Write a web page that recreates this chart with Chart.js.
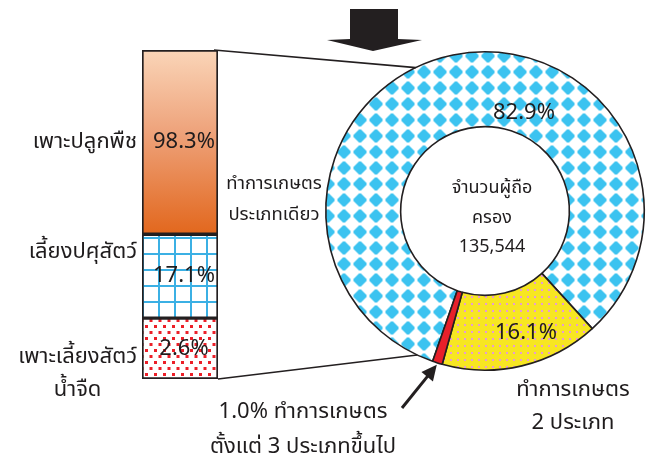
<!DOCTYPE html>
<html>
<head>
<meta charset="utf-8">
<script src="https://cdn.jsdelivr.net/npm/chart.js@4.4.1/dist/chart.umd.min.js"></script>
<style>
  body { margin: 0; background: #fff; }
  #wrap { position: relative; width: 659px; height: 460px; overflow: hidden; font-family: "Noto Sans Thai", Tahoma, "Noto Sans", sans-serif; color: #1f1c1d; }
  canvas { position: absolute; left: 0; top: 0; }
  #ringCanvas { pointer-events: none; }
  .lbl { position: absolute; white-space: nowrap; line-height: 1; }
</style>
</head>
<body>
<div id="wrap">
  <canvas id="barCanvas" width="330" height="460"></canvas>
  <canvas id="ringCanvas" width="659" height="460"></canvas>
</div>
<script>
// donut: holders split by number of farming types
const ringLabels = [['ทำการเกษตร', 'ประเภทเดียว'], ['ทำการเกษตร', '2 ประเภท'], ['ทำการเกษตร', 'ตั้งแต่ 3 ประเภทขึ้นไป']];
const ringValues = [82.9, 16.1, 1.0];
const centerLines = ['จำนวนผู้ถือ', 'ครอง', '135,544'];

// bar: breakdown of the single-type holders
const barLabels = [['เพาะปลูกพืช'], ['เลี้ยงปศุสัตว์'], ['เพาะเลี้ยงสัตว์', 'น้ำจืด']];
const barValues = [98.3, 17.1, 2.6];
// the blocks in the picture are not drawn to value, these are the shares read off the picture
const barBlockShare = [56, 25.5, 18.5];

const ink = '#231f20';
const wrap = document.getElementById('wrap');

function addText(lines, x, y, size, align, lh) {
  const d = document.createElement('div');
  d.className = 'lbl';
  d.style.fontSize = size + 'px';
  d.style.lineHeight = (lh || size) + 'px';
  d.style.textAlign = 'center';
  d.style.left = x + 'px';
  d.style.top = y + 'px';
  let tx = '-50%';
  if (align === 'right') tx = '-100%';
  if (align === 'left') tx = '0';
  d.style.transform = 'translate(' + tx + ',-50%)';
  d.innerHTML = lines.join('<br>');
  wrap.appendChild(d);
  return d;
}

function makePattern(w, h, draw) {
  const c = document.createElement('canvas');
  c.width = w; c.height = h;
  const g = c.getContext('2d');
  draw(g);
  return g.createPattern(c, 'repeat');
}

// stepped blue diamonds
const diamondFill = makePattern(16, 16, g => {
  g.fillStyle = '#fff'; g.fillRect(0, 0, 16, 16);
  g.fillStyle = '#3cc3f0';
  [[13, 3], [11, 5], [9, 7], [7, 9], [5, 11], [3, 13]].forEach(([w, h]) => {
    g.fillRect(8 - w / 2, 8 - h / 2, w, h);
  });
});
const yellowFill = makePattern(7, 7, g => {
  g.fillStyle = '#f7e622'; g.fillRect(0, 0, 7, 7);
  g.fillStyle = '#e79bd3'; g.fillRect(2, 2, 2, 2);
});
const gridFill = makePattern(16, 16, g => {
  g.fillStyle = '#fff'; g.fillRect(0, 0, 16, 16);
  g.fillStyle = '#3bb0e4';
  g.fillRect(14, 0, 2, 16);
  g.fillRect(0, 13, 16, 2);
});
const dotFill = makePattern(9, 12, g => {
  g.fillStyle = '#fff'; g.fillRect(0, 0, 9, 12);
  g.fillStyle = '#ec1f28';
  g.fillRect(1, 1, 3, 3);
  g.fillRect(5.5, 7, 3, 3);
});

const barTotal = barBlockShare.reduce((a, b) => a + b, 0);

function orangeFill(ctx) {
  const chart = ctx.chart;
  const y = chart.scales.y;
  if (!chart.chartArea || !y) return '#e8874a';
  const top = y.getPixelForValue(barTotal);
  const bot = y.getPixelForValue(barTotal - barBlockShare[0]);
  const gr = chart.ctx.createLinearGradient(0, top, 0, bot);
  gr.addColorStop(0, '#fad5b8');
  gr.addColorStop(0.45, '#eea27a');
  gr.addColorStop(1, '#e2671d');
  return gr;
}

// stacked bottom-up: freshwater, livestock, crops
const barFills = [orangeFill, gridFill, dotFill];
const barDatasets = [2, 1, 0].map(i => ({
  label: barLabels[i].join(''),
  data: [barBlockShare[i]],
  backgroundColor: barFills[i],
  borderColor: ink,
  borderWidth: 2,
  borderSkipped: false,
  barPercentage: 1,
  categoryPercentage: 1
}));

const barChart = new Chart(document.getElementById('barCanvas').getContext('2d'), {
  type: 'bar',
  data: { labels: [''], datasets: barDatasets },
  options: {
    responsive: false,
    animation: false,
    layout: { padding: { left: 142, right: 112, top: 50, bottom: 81 } },
    plugins: { legend: { display: false }, tooltip: { enabled: false } },
    scales: {
      x: { stacked: true, display: false },
      y: { stacked: true, display: false, min: 0, max: barTotal }
    }
  }
});

function ringPoint(arc, deg, r) {
  const a = deg * Math.PI / 180 - Math.PI / 2;
  return { x: arc.x + Math.cos(a) * r, y: arc.y + Math.sin(a) * r };
}

const linkPlugin = {
  id: 'links',
  afterDraw(chart) {
    const g = chart.ctx;
    const arc = chart.getDatasetMeta(0).data[0];
    const topBar = barChart.getDatasetMeta(2).data[0];
    const lowBar = barChart.getDatasetMeta(0).data[0];
    const right = topBar.x + topBar.width / 2;
    const rot = chart.options.rotation;
    g.save();
    g.strokeStyle = ink;
    g.lineWidth = 1.6;
    // lines from the bar to the single-type slice
    let p = ringPoint(arc, rot + 135, arc.outerRadius);
    g.beginPath(); g.moveTo(right - 4, topBar.y); g.lineTo(p.x, p.y); g.stroke();
    p = ringPoint(arc, rot + 6, arc.outerRadius);
    g.beginPath(); g.moveTo(right, lowBar.base); g.lineTo(p.x, p.y); g.stroke();

    // small arrow to the thin red slice
    const red = chart.getDatasetMeta(0).data[2];
    const mid = (red.startAngle + red.endAngle) / 2;
    const tip = { x: arc.x + Math.cos(mid) * (arc.outerRadius + 2), y: arc.y + Math.sin(mid) * (arc.outerRadius + 2) };
    const tail = { x: 402, y: 408 };
    const ang = Math.atan2(tip.y - tail.y, tip.x - tail.x);
    g.lineWidth = 3;
    g.beginPath(); g.moveTo(tail.x, tail.y);
    g.lineTo(tip.x - Math.cos(ang) * 10, tip.y - Math.sin(ang) * 10); g.stroke();
    g.fillStyle = ink;
    g.beginPath();
    g.moveTo(tip.x, tip.y);
    g.lineTo(tip.x - Math.cos(ang - 0.45) * 17, tip.y - Math.sin(ang - 0.45) * 17);
    g.lineTo(tip.x - Math.cos(ang + 0.45) * 17, tip.y - Math.sin(ang + 0.45) * 17);
    g.closePath(); g.fill();

    // big arrow at the top
    g.beginPath();
    g.moveTo(350, 9); g.lineTo(398, 9); g.lineTo(398, 39); g.lineTo(422, 40);
    g.lineTo(373, 51); g.lineTo(327, 40); g.lineTo(350, 39);
    g.closePath(); g.fill();
    g.restore();
  }
};

const ringChart = new Chart(document.getElementById('ringCanvas').getContext('2d'), {
  type: 'doughnut',
  data: {
    labels: ringLabels.map(l => l.join(' ')),
    datasets: [{
      data: ringValues,
      backgroundColor: [diamondFill, yellowFill, '#e8202a'],
      borderColor: ink,
      borderWidth: 1.6
    }]
  },
  options: {
    responsive: false,
    animation: false,
    rotation: 199.2,
    cutout: '53%',
    layout: { padding: { left: 325, right: 14, top: 51, bottom: 89 } },
    plugins: { legend: { display: false }, tooltip: { enabled: false } }
  },
  plugins: [linkPlugin]
});

// labels
const barEls = [2, 1, 0].map(d => barChart.getDatasetMeta(d).data[0]);
barEls.forEach((el, i) => {
  const cy = (el.y + el.base) / 2;
  addText([barValues[i].toFixed(1) + '%'], el.x + 4, cy, 22);
});
addText(barLabels[0], 137, 142, 22, 'right');
addText(barLabels[1], 137, 252, 22, 'right');
addText(barLabels[2], 137, 373, 22, 'right', 33);

addText(ringLabels[0], 274, 199, 18.5, 'center', 31);
addText([ringValues[0].toFixed(1) + '%'], 524, 113, 22);
addText([ringValues[1].toFixed(1) + '%'], 526, 333, 22);
addText(ringLabels[1], 573, 406, 22, 'center', 33);
addText([ringValues[2].toFixed(1) + '% ' + ringLabels[2][0], ringLabels[2][1]], 303, 429, 22, 'center', 35);
addText(centerLines, 492, 217, 18, 'center', 29.5);
</script>
</body>
</html>
